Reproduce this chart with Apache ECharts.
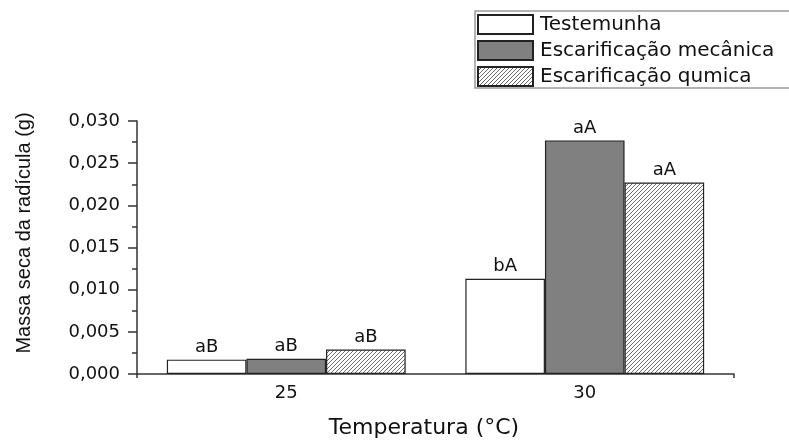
<!DOCTYPE html>
<html>
<head>
<meta charset="utf-8">
<script src="https://cdn.jsdelivr.net/npm/echarts@6/dist/echarts.min.js"></script>
<style>
  html, body { margin: 0; padding: 0; background: #fff; }
  #chart { width: 789px; height: 442px; }
</style>
</head>
<body>
<div id="chart"></div>
<script>
// Temperatures (°C) on the category axis
const categories = ['25', '30'];

// Dry mass of the radicle (g) per treatment
const testemunha = [0.0017, 0.0113];
const mecanica = [0.0018, 0.0277];
const quimica = [0.0029, 0.0227];

// Mean-comparison letters shown above each bar
const lettersTestemunha = ['aB', 'bA'];
const lettersMecanica = ['aB', 'aA'];
const lettersQuimica = ['aB', 'aA'];

const seriesNames = ['Testemunha', 'Escarificação mecânica', 'Escarificação qumica'];

// Diagonal hatch tile for the chemical scarification bars
function hatchTile() {
  const c = document.createElement('canvas');
  c.width = 4; c.height = 4;
  const ctx = c.getContext('2d');
  ctx.fillStyle = '#ffffff';
  ctx.fillRect(0, 0, 4, 4);
  ctx.fillStyle = '#6a6a6a';
  for (let i = 0; i < 4; i++) ctx.fillRect(i, 3 - i, 1, 1);
  return c;
}

const wideFont = 'DejaVu Sans';
const axisColor = '#333333';

function barLabel(letters) {
  return {
    show: true,
    position: 'top',
    distance: 3,
    color: '#111',
    fontFamily: wideFont,
    fontSize: 18,
    formatter: p => letters[p.dataIndex]
  };
}

const chart = echarts.init(document.getElementById('chart'), null, { renderer: 'canvas' });

chart.setOption({
  animation: false,
  backgroundColor: '#ffffff',
  grid: { left: 137, right: 55, top: 121, bottom: 68 },
  legend: {
    orient: 'vertical',
    left: 475,
    top: 11,
    padding: [3, 60, 1, 2],
    itemWidth: 55,
    itemHeight: 19,
    itemGap: 5,
    borderColor: '#9a9a9a',
    borderWidth: 1.5,
    icon: 'rect',
    textStyle: { fontFamily: wideFont, fontSize: 20, color: '#111', padding: [0, 0, 0, 2] },
    data: seriesNames
  },
  xAxis: [
    {
      type: 'category',
      data: categories,
      axisLine: { lineStyle: { color: axisColor, width: 1.5 } },
      axisTick: { alignWithLabel: true, length: 4, lineStyle: { color: axisColor, width: 1.5 } },
      axisLabel: { margin: 10, color: '#111', fontFamily: wideFont, fontSize: 18 }
    },
    {
      // end ticks of the horizontal axis
      type: 'value',
      position: 'bottom',
      min: 0,
      max: 1,
      interval: 1,
      axisLine: { show: false },
      axisTick: { show: true, length: 4, lineStyle: { color: axisColor, width: 1.5 } },
      axisLabel: { show: false },
      splitLine: { show: false }
    }
  ],
  yAxis: {
    type: 'value',
    min: 0,
    max: 0.03,
    interval: 0.005,
    axisLine: { show: true, lineStyle: { color: axisColor, width: 1.5 } },
    axisTick: { show: true, length: 9, lineStyle: { color: axisColor, width: 1.5 } },
    minorTick: { show: true, splitNumber: 2, length: 5, lineStyle: { color: axisColor, width: 1.5 } },
    splitLine: { show: false },
    axisLabel: {
      margin: 17,
      color: '#111',
      fontFamily: wideFont,
      fontSize: 18,
      formatter: v => v.toFixed(3).replace('.', ',')
    }
  },
  series: [
    {
      name: seriesNames[0],
      type: 'bar',
      data: testemunha,
      barGap: '0%',
      barCategoryGap: '20%',
      itemStyle: { color: '#ffffff', borderColor: '#222', borderWidth: 1.2 },
      label: barLabel(lettersTestemunha)
    },
    {
      name: seriesNames[1],
      type: 'bar',
      data: mecanica,
      barGap: '0%',
      barCategoryGap: '20%',
      itemStyle: { color: '#808080', borderColor: '#222', borderWidth: 1.2 },
      label: barLabel(lettersMecanica)
    },
    {
      name: seriesNames[2],
      type: 'bar',
      data: quimica,
      barGap: '0%',
      barCategoryGap: '20%',
      itemStyle: { color: { image: hatchTile(), repeat: 'repeat' }, borderColor: '#222', borderWidth: 1.2 },
      label: barLabel(lettersQuimica)
    }
  ],
  graphic: [
    {
      type: 'text',
      x: 24,
      y: 233,
      rotation: Math.PI / 2,
      style: {
        text: 'Massa seca da radícula (g)',
        fontFamily: 'Liberation Sans',
        fontSize: 20,
        fill: '#111',
        align: 'center',
        verticalAlign: 'middle'
      }
    },
    {
      type: 'text',
      x: 424,
      y: 428,
      style: {
        text: 'Temperatura (°C)',
        fontFamily: wideFont,
        fontSize: 22,
        fill: '#111',
        align: 'center',
        verticalAlign: 'middle'
      }
    }
  ]
});
</script>
</body>
</html>
